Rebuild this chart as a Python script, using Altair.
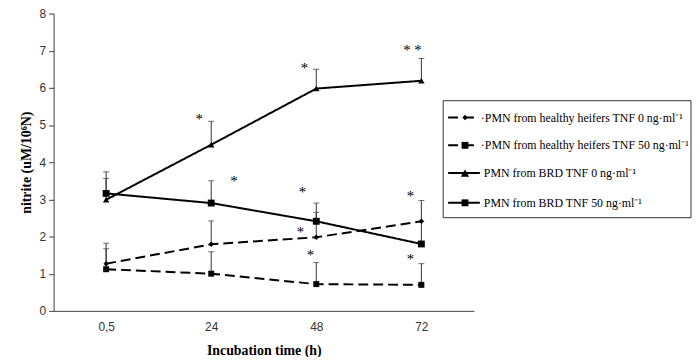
import altair as alt
import pandas as pd

times = ["0,5", "24", "48", "72"]
series_names = [
    "PMN from healthy heifers TNF 0 ng·ml⁻¹",
    "PMN from healthy heifers TNF 50 ng·ml⁻¹",
    "PMN from BRD TNF 0 ng·ml⁻¹",
    "PMN from BRD TNF 50 ng·ml⁻¹",
]
legend_labels = [
    "·PMN from healthy heifers TNF 0 ng·ml⁻¹",
    "·PMN from healthy heifers TNF 50 ng·ml⁻¹",
    "PMN from BRD TNF 0 ng·ml⁻¹",
    "PMN from BRD TNF 50 ng·ml⁻¹",
]
series_shapes = ["diamond", "square", "triangle-up", "square"]
series_dash = [[10, 5], [10, 5], [1, 0], [1, 0]]
series_sizes = [30, 48, 70, 48]

healthy_0 = [1.27, 1.79, 1.98, 2.41]
healthy_0_upper = [1.67, 2.42, 2.65, 2.97]
healthy_50 = [1.12, 1.00, 0.72, 0.70]
healthy_50_upper = [1.82, 1.59, 1.30, 1.27]
brd_0 = [2.99, 4.47, 5.98, 6.19]
brd_0_upper = [3.56, 5.10, 6.50, 6.79]
brd_50 = [3.16, 2.90, 2.41, 1.80]
brd_50_upper = [3.74, 3.50, 2.90, 2.40]

star_times = ["24", "48", "72", "24", "48", "48", "48", "72", "72"]
star_values = [5.25, 6.61, 7.10, 3.58, 3.28, 2.21, 1.58, 3.18, 1.47]
star_labels = ["*", "*", "* *", "*", "*", "*", "*", "*", "*"]
star_dx = [-12, -12, -9, 23, -14, -16, -6, -11, -11]

values = [healthy_0, healthy_50, brd_0, brd_50]
uppers = [healthy_0_upper, healthy_50_upper, brd_0_upper, brd_50_upper]

rows = []
for s, name in enumerate(series_names):
    for i, t in enumerate(times):
        rows.append({"series": name, "time": t, "value": values[s][i], "upper": uppers[s][i]})
df = pd.DataFrame(rows)

x_enc = alt.X(
    "time:O",
    scale=alt.Scale(type="point", domain=times, padding=0.5),
    axis=alt.Axis(
        title="Incubation time (h)", labelAngle=0, ticks=False, tickSize=0,
        labelPadding=11, titleY=40, titleBaseline="middle",
    ),
)

y_axis = alt.Axis(
    title="nitrite (uM/10⁶N)", values=list(range(9)), labelOverlap=False,
    tickSize=5, labelPadding=3, titleX=-27, titleY=150, titleBaseline="middle",
)


def y_of(field):
    return alt.Y(field, type="quantitative", scale=alt.Scale(domain=[0, 8]), axis=y_axis)


y_enc = y_of("value")

base = alt.Chart(df)

err_stem = base.mark_rule(color="#333333", strokeWidth=1).encode(
    x=x_enc, y=y_enc, y2="upper:Q"
)
err_cap = base.mark_tick(color="#333333", thickness=1, size=6).encode(
    x=x_enc, y=y_of("upper")
)

dash_scale = alt.Scale(domain=series_names, range=series_dash)
shape_scale = alt.Scale(domain=series_names, range=series_shapes)
size_scale = alt.Scale(domain=series_names, range=series_sizes)

lines = base.mark_line(color="black", strokeWidth=2).encode(
    x=x_enc, y=y_enc,
    strokeDash=alt.StrokeDash("series:N", scale=dash_scale, legend=None),
    detail="series:N",
)
points = base.mark_point(filled=True, color="black", opacity=1).encode(
    x=x_enc, y=y_enc,
    shape=alt.Shape("series:N", scale=shape_scale, legend=None),
    size=alt.Size("series:N", scale=size_scale, legend=None),
)

layers = [err_stem, err_cap, lines, points]

for t, v, lab, dx in zip(star_times, star_values, star_labels, star_dx):
    sdf = pd.DataFrame({"time": [t], "value": [v], "label": [lab]})
    layers.append(
        alt.Chart(sdf).mark_text(
            font="Liberation Serif", fontSize=15, color="black", dx=dx, baseline="middle", dy=3
        ).encode(x=x_enc, y=y_enc, text="label:N")
    )

# Legend box
legend_box = alt.Chart(pd.DataFrame({"a": [0]})).mark_rect(
    fill="white", stroke="#333333", strokeWidth=1
).encode(x=alt.value(393), x2=alt.value(643), y=alt.value(88), y2=alt.value(206))
layers.append(legend_box)

legend_y = [105, 133, 161, 191]
for s, name in enumerate(series_names):
    ldf = pd.DataFrame({"label": [legend_labels[s]]})
    yy = legend_y[s]
    dashed = s < 2
    layers.append(
        alt.Chart(ldf).mark_rule(
            color="black", strokeWidth=2, strokeDash=[10, 6] if dashed else [1, 0]
        ).encode(x=alt.value(398), x2=alt.value(430), y=alt.value(yy))
    )
    layers.append(
        alt.Chart(ldf).mark_point(
            filled=True, color="black", opacity=1, shape=series_shapes[s], size=series_sizes[s]
        ).encode(x=alt.value(415), y=alt.value(yy))
    )
    layers.append(
        alt.Chart(ldf).mark_text(
            font="Liberation Serif", fontSize=12, color="black", align="left", baseline="middle"
        ).encode(x=alt.value(431 if dashed else 434), y=alt.value(yy), text="label:N")
    )

chart = alt.layer(*layers).properties(
    width=424, height=300,
    autosize=alt.AutoSizeParams(type="none"),
    padding={"left": 46, "top": 4, "right": 220, "bottom": 45},
).configure_view(stroke=None).configure_axis(
    grid=False,
    domainColor="#404040",
    tickColor="#404040",
    labelFont="Liberation Sans",
    labelFontSize=12,
    labelColor="#333333",
    titleFont="Liberation Serif",
    titleFontSize=14,
    titleFontWeight="bold",
    titleColor="black",
)

chart.save("out.html", embed_options={"renderer": "svg", "actions": False})
